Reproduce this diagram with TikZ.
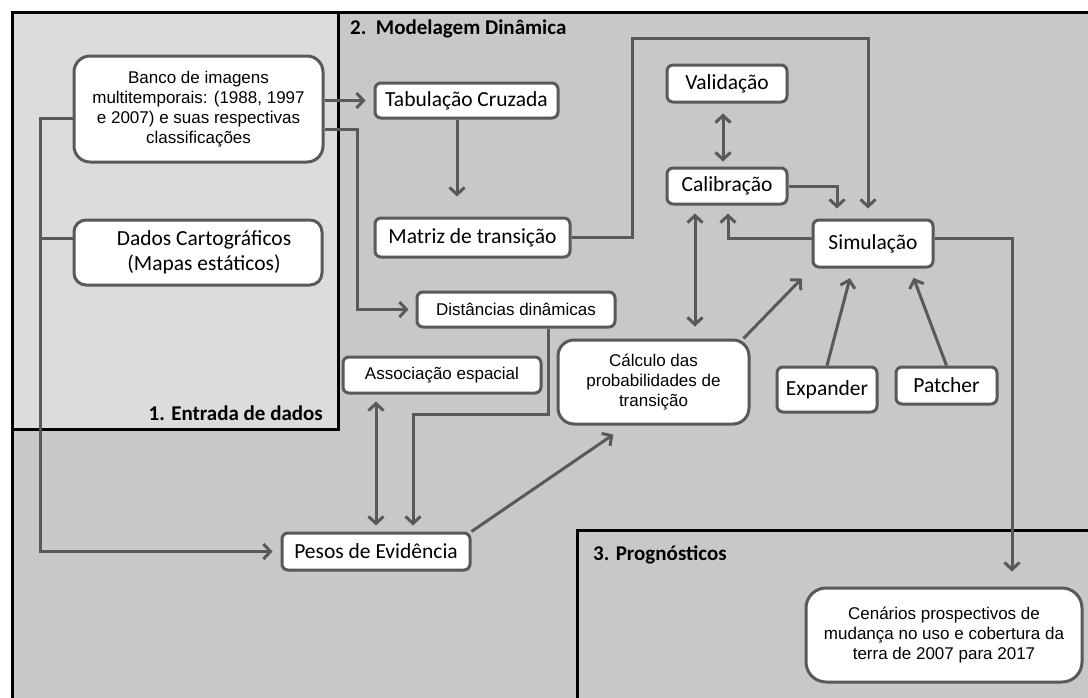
\documentclass[tikz,border=0pt]{standalone}
\usepackage{fontspec}
\setmainfont{Liberation Sans}
\newfontfamily\carlito{Carlito}
\usetikzlibrary{arrows.meta}

\definecolor{linegray}{HTML}{595959}
\definecolor{panelgray}{HTML}{C8C8C8}
\definecolor{inputgray}{HTML}{DCDCDC}

\tikzset{
    box/.style={draw=linegray, line width=3pt, fill=white, rounded corners=6pt,
        inner sep=0pt, align=center, font=\carlito\fontsize{21.5}{25}\selectfont},
    flat/.style={box, font=\fontsize{17}{20}\selectfont},
    roundbox/.style={flat, rounded corners=16pt},
    link/.style={draw=linegray, line width=3pt},
    title/.style={inner sep=0pt, font=\carlito\bfseries\fontsize{21}{25}\selectfont},
    panel/.style={draw=black, line width=3pt}
}

\begin{document}
\begin{tikzpicture}[x=1pt, y=-1pt, >={Straight Barb[length=7pt,width=15pt]}]
        \clip (0,0) rectangle (1088,697);
        \fill[white] (0,0) rectangle (1088,697);

        % Draw the panels
        \draw[panel, fill=panelgray] (12,12) rectangle (1100,710);
        \draw[panel, fill=inputgray] (12,12) rectangle (338,429);
        \draw[panel, fill=panelgray] (577,530) rectangle (1100,710);
        \node[title, anchor=west] (t2) at (350,29)  {2.\ \ Modelagem Dinâmica};
        \node[title, anchor=east] (t1) at (323,413) {1. Entrada de dados};
        \node[title, anchor=west] (t3) at (593,555) {3. Prognósticos};

        % Draw the boxes
        \node[roundbox, minimum width=249pt, minimum height=106pt] (banco) at (198.5,109)
            {Banco de imagens\\multitemporais: (1988, 1997\\e 2007) e suas respectivas\\classificações};
        \node[box, rounded corners=12pt, minimum width=248pt, minimum height=65pt] (dados) at (198,252.5)
            {\hspace*{12pt}Dados Cartográficos\\\hspace*{12pt}(Mapas estáticos)};
        \node[box, minimum width=183pt, minimum height=35pt] (tab)    at (466.5,100.5) {Tabulação Cruzada};
        \node[box, minimum width=195pt, minimum height=39pt] (matriz) at (472.5,237.5) {Matriz de transição};
        \node[flat, minimum width=198pt, minimum height=35pt] (dist)  at (516,309.5)   {Distâncias dinâmicas};
        \node[flat, minimum width=198pt, minimum height=36pt] (assoc) at (442,375)     {Associação espacial};
        \node[box, minimum width=188pt, minimum height=37pt] (pesos)  at (376,551.5)   {Pesos de Evidência};
        \node[roundbox, minimum width=191pt, minimum height=84pt] (calc) at (653.5,382)
            {Cálculo das\\probabilidades de\\transição};
        \node[box, minimum width=120pt, minimum height=37pt] (valid)  at (727,83.5)    {Validação};
        \node[box, minimum width=120pt, minimum height=36pt] (calib)  at (727,186)     {Calibração};
        \node[box, minimum width=120pt, minimum height=47pt] (simul)  at (873,243.5)   {Simulação};
        \node[box, minimum width=100pt, minimum height=45pt] (expander) at (827,389.5) {Expander};
        \node[box, minimum width=101pt, minimum height=37pt] (patcher) at (946.5,385.5) {Patcher};
        \node[roundbox, rounded corners=20pt, minimum width=276pt, minimum height=94pt] (cen) at (944,635)
            {Cenários prospectivos de\\mudança no uso e cobertura da\\terra de 2007 para 2017};

        % Connect the boxes with arrows
        \coordinate (busl)   at (40,118);
        \coordinate (branch) at (40,238);
        \coordinate (busr)   at (357,129);
        \coordinate (top)    at (632,38);

        \draw[link, ->, shorten >=8pt] (banco.east |- tab.west) -- (tab.west);
        \draw[link, ->, shorten >=7pt] (banco.east |- busr) -- (busr) |- (dist.west);
        \draw[link, ->, shorten >=8pt] (banco.west |- busl) -- (busl) |- (pesos.west);
        \draw[link] (branch) -- (dados.west |- branch);

        \draw[link, ->, shorten >=20pt] ([xshift=-9.5pt]tab.south) -- ([xshift=-15.5pt]matriz.north);
        \draw[link, ->, shorten >=10pt] (matriz.east) -| (top) -| ([xshift=-5pt]simul.north);
        \draw[link, ->, shorten >=10pt] (calib.east) -| ([xshift=-36pt]simul.north);
        \draw[link, <->, shorten <=10pt, shorten >=5pt] ([xshift=-4pt]valid.south) -- ([xshift=-4pt]calib.north);
        \draw[link, ->, shorten >=8pt] ([yshift=5.5pt]simul.west) -| ([xshift=1pt]calib.south);
        \draw[link, <->, shorten <=8pt, shorten >=12pt] ([xshift=-32pt]calib.south) -- ([xshift=41.5pt]calc.north);
        \draw[link, ->, shorten >=14pt] ([xshift=-7pt]calc.north east) -- (simul.south west);
        \draw[link, ->, shorten >=10pt] (expander.north) -- ([xshift=-20.5pt]simul.south);
        \draw[link, ->, shorten >=10pt] (patcher.north) -- ([xshift=37pt]simul.south);
        \draw[link, ->, shorten >=15pt] ([yshift=5.5pt]simul.east) -| ([xshift=68pt]cen.north);

        \draw[link, ->, shorten >=6pt] ([xshift=32pt]dist.south) -- ++(0,86) -| ([xshift=37pt]pesos.north);
        \draw[link, <->, shorten <=7pt, shorten >=6pt] (assoc.south -| pesos.north) -- (pesos.north);
        \draw[link, ->, shorten >=16pt] (pesos.north east) -- ([xshift=-27pt]calc.south);
\end{tikzpicture}
\end{document}
